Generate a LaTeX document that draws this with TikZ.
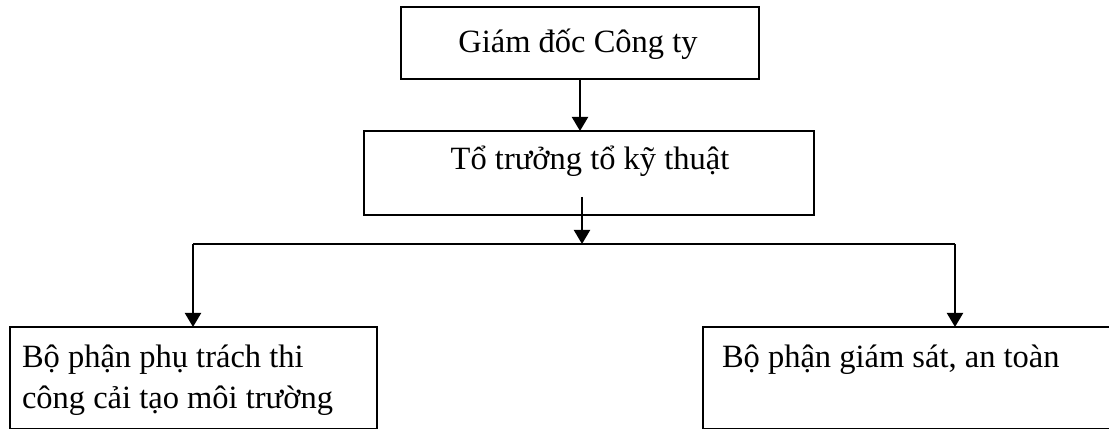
\documentclass[tikz,border=0pt]{standalone}
\usepackage{fontspec}
\setmainfont{Liberation Serif}
\usetikzlibrary{arrows.meta}
\begin{document}
\begin{tikzpicture}[x=1pt,y=-1pt,
  box/.style={draw=black,line width=1.6pt,rectangle,inner sep=0pt,outer sep=0pt},
  lbl/.style={inner sep=0pt,outer sep=0pt,font=\fontsize{32.5}{40}\selectfont},
  conn/.style={draw=black,line width=2pt},
  arr/.style={conn,-{Triangle[length=14pt,width=16pt]}}]
\useasboundingbox (0,0) rectangle (1109,430);
% boxes
\node[box,minimum width=358pt,minimum height=72pt] (b1) at (580,43) {};
\node[box,minimum width=450pt,minimum height=84pt] (b2) at (589,173) {};
\node[box,minimum width=367pt,minimum height=101.5pt] (b3) at (193.5,377.75) {};
\node[box,minimum width=412pt,minimum height=101.5pt] (b4) at (909,377.75) {};
% texts
\node[lbl,anchor=base] (t1) at (578,53) {Giám đốc Công ty};
\node[lbl,anchor=base] (t2) at (590,170) {Tổ trưởng tổ kỹ thuật};
\node[lbl,anchor=base west,align=left] (t3) at (22,408) {Bộ phận phụ trách thi\\công cải tạo môi trường};
\node[lbl,anchor=base west] (t4) at (722,367) {Bộ phận giám sát, an toàn};
% connectors
\coordinate (s2) at (582,197);
\coordinate (hub) at (582,244);
\coordinate (hl) at (193,244);
\coordinate (hr) at (955,244);
\draw[arr] (b1.south) -- (b1.south |- b2.north);
\draw[arr] (s2) -- (hub);
\draw[conn] (hl) -- (hr);
\draw[arr] (hl) -- (hl |- b3.north);
\draw[arr] (hr) -- (hr |- b4.north);
\end{tikzpicture}
\end{document}
